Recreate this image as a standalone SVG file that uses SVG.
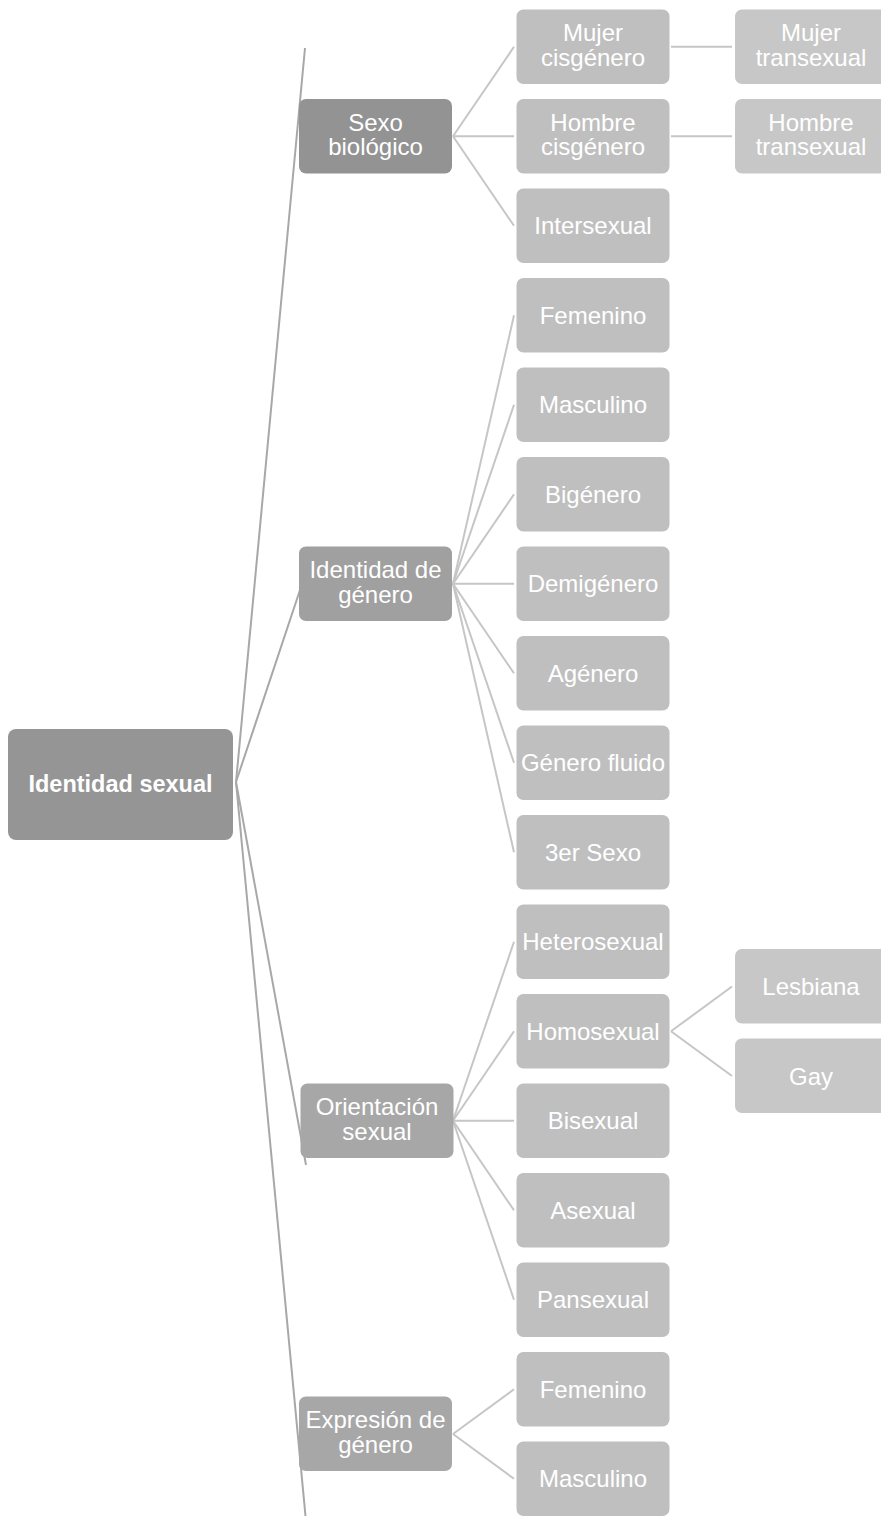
<svg xmlns="http://www.w3.org/2000/svg" width="881" height="1516" viewBox="0 0 881 1516">
<style>
text{font-family:"Liberation Sans",Arial,sans-serif;fill:#ffffff;text-anchor:middle;font-size:24px}
.root text{font-weight:bold;font-size:23.5px}
.c0{stroke:#a8a8a8;stroke-width:2;fill:none}
.c1{stroke:#c6c6c6;stroke-width:2;fill:none}
.l0{fill:#959595}
.l2{fill:#bfbfbf}
.l3{fill:#c7c7c7}
</style>
<rect width="881" height="1516" fill="#ffffff"/>
<g id="connectors">
<line class="c0" x1="236" y1="782" x2="305" y2="48"/>
<line class="c0" x1="236" y1="782" x2="310" y2="560"/>
<line class="c0" x1="236" y1="782" x2="306" y2="1165"/>
<line class="c0" x1="236" y1="782" x2="305.5" y2="1516"/>
<line class="c1" x1="453" y1="136.3" x2="514" y2="46.8"/>
<line class="c1" x1="453" y1="136.3" x2="514" y2="136.3"/>
<line class="c1" x1="453" y1="136.3" x2="514" y2="225.8"/>
<line class="c1" x1="453" y1="583.8" x2="514" y2="315.3"/>
<line class="c1" x1="453" y1="583.8" x2="514" y2="404.8"/>
<line class="c1" x1="453" y1="583.8" x2="514" y2="494.3"/>
<line class="c1" x1="453" y1="583.8" x2="514" y2="583.8"/>
<line class="c1" x1="453" y1="583.8" x2="514" y2="673.3"/>
<line class="c1" x1="453" y1="583.8" x2="514" y2="762.8"/>
<line class="c1" x1="453" y1="583.8" x2="514" y2="852.3"/>
<line class="c1" x1="453" y1="1120.8" x2="514" y2="941.8"/>
<line class="c1" x1="453" y1="1120.8" x2="514" y2="1031.3"/>
<line class="c1" x1="453" y1="1120.8" x2="514" y2="1120.8"/>
<line class="c1" x1="453" y1="1120.8" x2="514" y2="1210.3"/>
<line class="c1" x1="453" y1="1120.8" x2="514" y2="1299.8"/>
<line class="c1" x1="453" y1="1434" x2="514" y2="1389.3"/>
<line class="c1" x1="453" y1="1434" x2="514" y2="1478.8"/>
<line class="c1" x1="671" y1="46.8" x2="732" y2="46.8"/>
<line class="c1" x1="671" y1="136.3" x2="732" y2="136.3"/>
<line class="c1" x1="671" y1="1031.3" x2="732" y2="986.5"/>
<line class="c1" x1="671" y1="1031.3" x2="732" y2="1076"/>
</g>
<g id="n-root" class="root"><rect x="8" y="729" width="225" height="111" rx="8" class="l0"/><text x="120.5" y="792">Identidad sexual</text></g>
<g id="n-sexo"><rect x="299" y="99" width="153" height="74.5" rx="7" fill="#939393"/><text x="375.5" y="130.5">Sexo</text><text x="375.5" y="155">biológico</text></g>
<g id="n-identidad"><rect x="299" y="546.5" width="153" height="74.5" rx="7" fill="#a0a0a0"/><text x="375.5" y="578">Identidad de</text><text x="375.5" y="602.5">género</text></g>
<g id="n-orientacion"><rect x="300.5" y="1083.5" width="153" height="74.5" rx="7" fill="#a7a7a7"/><text x="377" y="1115">Orientación</text><text x="377" y="1139.5">sexual</text></g>
<g id="n-expresion"><rect x="299" y="1396.5" width="153" height="74.5" rx="7" fill="#a7a7a7"/><text x="375.5" y="1428">Expresión de</text><text x="375.5" y="1452.5">género</text></g>
<g id="n-mujer-cis"><rect x="516.5" y="9.5" width="153" height="74.5" rx="7" class="l2"/><text x="593" y="41">Mujer</text><text x="593" y="65.5">cisgénero</text></g>
<g id="n-hombre-cis"><rect x="516.5" y="99" width="153" height="74.5" rx="7" class="l2"/><text x="593" y="130.5">Hombre</text><text x="593" y="155">cisgénero</text></g>
<g id="n-intersexual"><rect x="516.5" y="188.5" width="153" height="74.5" rx="7" class="l2"/><text x="593" y="234.3">Intersexual</text></g>
<g id="n-femenino1"><rect x="516.5" y="278" width="153" height="74.5" rx="7" class="l2"/><text x="593" y="323.8">Femenino</text></g>
<g id="n-masculino1"><rect x="516.5" y="367.5" width="153" height="74.5" rx="7" class="l2"/><text x="593" y="413.3">Masculino</text></g>
<g id="n-bigenero"><rect x="516.5" y="457" width="153" height="74.5" rx="7" class="l2"/><text x="593" y="502.8">Bigénero</text></g>
<g id="n-demigenero"><rect x="516.5" y="546.5" width="153" height="74.5" rx="7" class="l2"/><text x="593" y="592.3">Demigénero</text></g>
<g id="n-agenero"><rect x="516.5" y="636" width="153" height="74.5" rx="7" class="l2"/><text x="593" y="681.8">Agénero</text></g>
<g id="n-fluido"><rect x="516.5" y="725.5" width="153" height="74.5" rx="7" class="l2"/><text x="593" y="771.3">Género fluido</text></g>
<g id="n-3er"><rect x="516.5" y="815" width="153" height="74.5" rx="7" class="l2"/><text x="593" y="860.8">3er Sexo</text></g>
<g id="n-hetero"><rect x="516.5" y="904.5" width="153" height="74.5" rx="7" class="l2"/><text x="593" y="950.3">Heterosexual</text></g>
<g id="n-homo"><rect x="516.5" y="994" width="153" height="74.5" rx="7" class="l2"/><text x="593" y="1039.8">Homosexual</text></g>
<g id="n-bi"><rect x="516.5" y="1083.5" width="153" height="74.5" rx="7" class="l2"/><text x="593" y="1129.3">Bisexual</text></g>
<g id="n-asexual"><rect x="516.5" y="1173" width="153" height="74.5" rx="7" class="l2"/><text x="593" y="1218.8">Asexual</text></g>
<g id="n-pan"><rect x="516.5" y="1262.5" width="153" height="74.5" rx="7" class="l2"/><text x="593" y="1308.3">Pansexual</text></g>
<g id="n-femenino2"><rect x="516.5" y="1352" width="153" height="74.5" rx="7" class="l2"/><text x="593" y="1397.8">Femenino</text></g>
<g id="n-masculino2"><rect x="516.5" y="1441.5" width="153" height="74.5" rx="7" class="l2"/><text x="593" y="1487.3">Masculino</text></g>
<g id="n-mujer-trans"><rect x="735" y="9.5" width="153" height="74.5" rx="7" class="l3"/><text x="811" y="41">Mujer</text><text x="811" y="65.5">transexual</text></g>
<g id="n-hombre-trans"><rect x="735" y="99" width="153" height="74.5" rx="7" class="l3"/><text x="811" y="130.5">Hombre</text><text x="811" y="155">transexual</text></g>
<g id="n-lesbiana"><rect x="735" y="949" width="153" height="74.5" rx="7" class="l3"/><text x="811" y="995">Lesbiana</text></g>
<g id="n-gay"><rect x="735" y="1038.5" width="153" height="74.5" rx="7" class="l3"/><text x="811" y="1084.5">Gay</text></g>
</svg>
